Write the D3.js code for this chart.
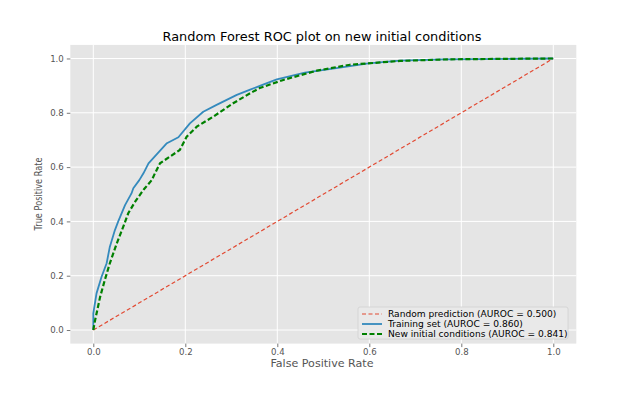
<!DOCTYPE html>
<html>
<head>
<meta charset="utf-8">
<script src="https://cdn.jsdelivr.net/npm/d3@7"></script>
<style>
  body { margin: 0; background: #fff; }
  text { font-family: "DejaVu Sans", sans-serif; }
</style>
</head>
<body>
<svg id="chart" width="628" height="393"></svg>
<script>
// ROC points
const trainFpr = [0, 0, 0.007, 0.018, 0.029, 0.036, 0.047, 0.054, 0.069, 0.083, 0.087, 0.1, 0.109, 0.12, 0.16, 0.185, 0.21, 0.239, 0.268, 0.312, 0.341, 0.362, 0.399, 0.46, 0.536, 0.598, 0.667, 0.761, 1.0];
const trainTpr = [0, 0.061, 0.135, 0.196, 0.246, 0.307, 0.368, 0.399, 0.46, 0.503, 0.522, 0.552, 0.577, 0.614, 0.688, 0.71, 0.761, 0.804, 0.829, 0.866, 0.885, 0.899, 0.923, 0.948, 0.966, 0.982, 0.992, 0.997, 1.0];

const newFpr = [0, 0.004, 0.015, 0.025, 0.036, 0.051, 0.065, 0.076, 0.091, 0.109, 0.112, 0.127, 0.134, 0.145, 0.188, 0.203, 0.225, 0.261, 0.304, 0.341, 0.362, 0.413, 0.486, 0.558, 0.667, 0.775, 1.0];
const newTpr = [0, 0.037, 0.123, 0.184, 0.246, 0.319, 0.38, 0.43, 0.473, 0.516, 0.522, 0.552, 0.577, 0.614, 0.663, 0.712, 0.749, 0.786, 0.835, 0.872, 0.891, 0.921, 0.955, 0.977, 0.991, 0.997, 1.0];

const randFpr = [0, 1];
const randTpr = [0, 1];

const tickVals = [0, 0.2, 0.4, 0.6, 0.8, 1.0];
const legendLabels = ["Random prediction (AUROC = 0.500)", "Training set (AUROC = 0.860)", "New initial conditions (AUROC = 0.841)"];

const svg = d3.select("#chart");
const plot = { left: 70.3, right: 576.3, top: 44.9, bottom: 343.6 };

let x = d3.scaleLinear().domain([-0.05, 1.05]).range([plot.left, plot.right]);
let y = d3.scaleLinear().domain([-0.05, 1.05]).range([plot.bottom, plot.top]);

// axes background
svg.append("rect")
    .attr("x", plot.left).attr("y", plot.top)
    .attr("width", plot.right - plot.left)
    .attr("height", plot.bottom - plot.top)
    .attr("fill", "#e5e5e5");

// grid
svg.append("g").selectAll("line").data(tickVals).enter().append("line")
    .attr("x1", d => x(d)).attr("x2", d => x(d))
    .attr("y1", plot.top).attr("y2", plot.bottom)
    .attr("stroke", "#fff").attr("stroke-width", 1);
svg.append("g").selectAll("line").data(tickVals).enter().append("line")
    .attr("y1", d => y(d)).attr("y2", d => y(d))
    .attr("x1", plot.left).attr("x2", plot.right)
    .attr("stroke", "#fff").attr("stroke-width", 1);

// axes
let xAxis = svg.append("g")
    .attr("transform", `translate(0,${plot.bottom})`)
    .call(d3.axisBottom(x).tickValues(tickVals).tickFormat(d3.format(".1f")).tickSize(3.5).tickPadding(1.5));
let yAxis = svg.append("g")
    .attr("transform", `translate(${plot.left},0)`)
    .call(d3.axisLeft(y).tickValues(tickVals).tickFormat(d3.format(".1f")).tickSize(3.5).tickPadding(3));
[xAxis, yAxis].forEach(a => {
    a.select(".domain").remove();
    a.selectAll("line").attr("stroke", "#555").attr("stroke-width", 0.8);
    a.selectAll("text").attr("fill", "#555").style("font-size", "8.6px")
        .style("font-family", "'DejaVu Sans', sans-serif");
});

// curves
const line = d3.line().x(d => x(d[0])).y(d => y(d[1]));
const zip = (a, b) => a.map((v, i) => [v, b[i]]);

svg.append("path").datum(zip(randFpr, randTpr))
    .attr("d", line).attr("fill", "none")
    .attr("stroke", "#E24A33").attr("stroke-width", 1.2)
    .attr("stroke-dasharray", "4,2.5");
svg.append("path").datum(zip(trainFpr, trainTpr))
    .attr("d", line).attr("fill", "none")
    .attr("stroke", "#348ABD").attr("stroke-width", 1.8)
    .attr("stroke-linejoin", "round");
svg.append("path").datum(zip(newFpr, newTpr))
    .attr("d", line).attr("fill", "none")
    .attr("stroke", "#008000").attr("stroke-width", 2.2)
    .attr("stroke-dasharray", "5,2.5");

// title and labels
svg.append("text")
    .attr("x", 322).attr("y", 41)
    .attr("text-anchor", "middle")
    .style("font-size", "12.9px").attr("fill", "#000")
    .text("Random Forest ROC plot on new initial conditions");
svg.append("text")
    .attr("x", 322).attr("y", 366.5)
    .attr("text-anchor", "middle")
    .style("font-size", "11.1px").attr("fill", "#555")
    .text("False Positive Rate");
svg.append("text")
    .attr("transform", `translate(42,194) rotate(-90)`)
    .attr("text-anchor", "middle")
    .attr("textLength", 73).attr("lengthAdjust", "spacingAndGlyphs")
    .style("font-size", "10px").attr("fill", "#555")
    .text("True Positive Rate");

// legend
const legend = svg.append("g");
legend.append("rect")
    .attr("x", 358).attr("y", 307).attr("width", 210).attr("height", 32)
    .attr("rx", 2)
    .attr("fill", "#e9e9e9").attr("stroke", "#d0d0d0").attr("stroke-width", 0.8);
const legendStyles = [
    { color: "#E24A33", width: 1.2, dash: "4,2.5" },
    { color: "#348ABD", width: 1.8, dash: null },
    { color: "#008000", width: 2.2, dash: "5,2.5" }
];
legendLabels.forEach((lab, i) => {
    let ly = 314 + i * 10;
    legend.append("line")
        .attr("x1", 362).attr("x2", 382).attr("y1", ly).attr("y2", ly)
        .attr("stroke", legendStyles[i].color)
        .attr("stroke-width", legendStyles[i].width)
        .attr("stroke-dasharray", legendStyles[i].dash);
    legend.append("text")
        .attr("x", 388).attr("y", ly + 3)
        .style("font-size", "9.1px").attr("fill", "#000")
        .text(lab);
});
</script>
</body>
</html>
